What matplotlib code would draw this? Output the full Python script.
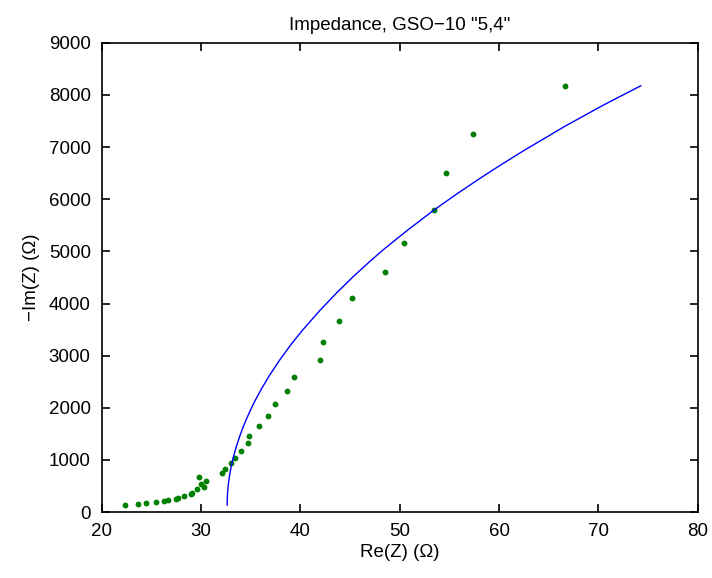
import matplotlib
matplotlib.use('Agg')
import matplotlib.pyplot as plt

# measured impedance points (Re, -Im)
re_meas = [22.32, 23.63, 24.46, 25.41, 26.31, 26.68, 27.45, 27.72, 28.29, 28.93,
           29.03, 29.60, 29.80, 29.97, 30.30, 30.44, 32.15, 32.36, 32.96, 33.42,
           34.03, 34.67, 34.77, 35.81, 36.75, 37.42, 38.66, 39.34, 41.98, 42.26,
           43.90, 45.21, 48.48, 50.41, 53.43, 54.67, 57.39, 66.66]
im_meas = [140, 154, 173, 192, 211, 230, 255, 274, 313, 345,
           370, 436, 672, 537, 480, 601, 749, 831, 940, 1042,
           1177, 1318, 1464, 1645, 1843, 2065, 2317, 2597, 2911, 3269,
           3666, 4107, 4607, 5169, 5797, 6507, 7250, 8170]

# fitted model curve
re_fit = [32.62, 32.63, 32.65, 32.68, 32.73, 32.80, 32.89, 33.05, 33.22, 33.55,
          33.90, 34.20, 34.57, 35.00, 35.41, 36.10, 36.92, 37.93, 39.10, 40.27,
          41.90, 43.63, 45.30, 46.99, 48.33, 50.68, 53.43, 55.70, 58.07, 60.08,
          62.50, 66.67, 70.50, 74.26]
im_fit = [134, 249, 333, 416, 516, 622, 735, 895, 1037, 1262,
          1463, 1617, 1788, 1970, 2130, 2372, 2633, 2922, 3227, 3503,
          3856, 4202, 4514, 4808, 5030, 5391, 5791, 6096, 6400, 6647,
          6934, 7404, 7805, 8175]

plt.rcParams['font.family'] = ['Liberation Sans', 'DejaVu Sans']
plt.rcParams['font.size'] = 13.5

fig = plt.figure(figsize=(7.12, 5.78), dpi=100)
ax = fig.add_axes([0.143, 0.114, 0.837, 0.812])

ax.plot(re_meas, im_meas, 'o', color='#008000', markersize=4.2, markeredgewidth=0)
ax.plot(re_fit, im_fit, '-', color='#0000ff', linewidth=1.0)

ax.set_xlim(20, 80)
ax.set_ylim(0, 9000)
ax.set_xticks(range(20, 81, 10))
ax.set_yticks(range(0, 9001, 1000))
ax.tick_params(direction='in', top=True, right=True, length=6, width=1.2, pad=8)
for s in ax.spines.values():
    s.set_linewidth(1.2)

ax.set_title('Impedance, GSO\u221210 "5,4"', fontsize=13.5, pad=9)
ax.set_xlabel('Re(Z) (\u03a9)', labelpad=3)
ax.set_ylabel('\u2212Im(Z) (\u03a9)', labelpad=6)

fig.savefig('out.png', dpi=100)
